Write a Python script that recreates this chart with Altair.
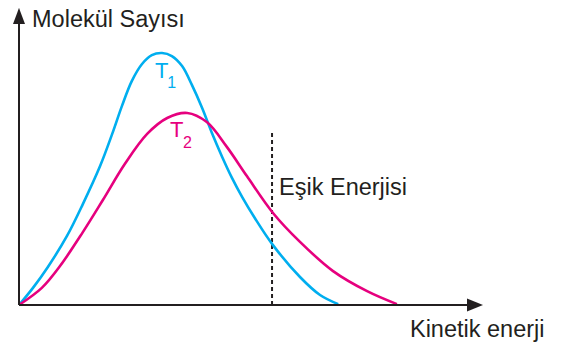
import altair as alt
import pandas as pd

# T1 curve (energy, molecule count) in arbitrary units
t1_energy = [0.00, 0.30, 0.62, 1.03, 1.37, 1.74, 2.00, 2.21, 2.42, 2.64, 2.85, 3.07, 3.28,
             3.50, 3.71, 3.93, 4.14, 4.36, 4.57, 4.79, 5.06, 5.45, 6.03, 6.46, 6.85]
t1_count = [0.00, 0.58, 1.29, 2.34, 3.42, 4.71, 5.80, 6.75, 7.59, 8.17, 8.47, 8.54, 8.44,
            8.10, 7.46, 6.68, 5.83, 5.02, 4.31, 3.66, 2.95, 2.03, 0.95, 0.34, 0.03]

# T2 curve
t2_energy = [0.00, 0.49, 0.88, 1.37, 1.80, 2.27, 2.75, 3.18, 3.61, 4.03, 4.46, 4.89,
             5.45, 6.03, 6.74, 7.47, 8.11]
t2_count = [0.00, 0.58, 1.32, 2.47, 3.56, 4.78, 5.80, 6.34, 6.51, 6.20, 5.36, 4.37,
            3.12, 2.14, 1.15, 0.47, 0.03]

threshold_energy = 5.43
threshold_top = 5.93

x_axis_end = 9.66
y_axis_end = 9.56
x_arrow_pos = 9.785
y_arrow_pos = 9.80

AXIS_COLOR = "#231f20"
CYAN = "#00aeef"
MAGENTA = "#e6007e"
FONT = "Liberation Sans"

xs = alt.Scale(domain=[0, 10], range=[11, 477])
ys = alt.Scale(domain=[0, 10], range=[297, 2])

def X(field):
    return alt.X(field, type="quantitative", scale=xs, axis=None)

def Y(field):
    return alt.Y(field, type="quantitative", scale=ys, axis=None)

df1 = pd.DataFrame({"e": t1_energy, "n": t1_count})
df2 = pd.DataFrame({"e": t2_energy, "n": t2_count})

curve1 = alt.Chart(df1).mark_line(color=CYAN, strokeWidth=2.6, interpolate="catmull-rom").encode(
    x=X("e"), y=Y("n"))
curve2 = alt.Chart(df2).mark_line(color=MAGENTA, strokeWidth=2.6, interpolate="catmull-rom").encode(
    x=X("e"), y=Y("n"))

thr = alt.Chart(pd.DataFrame({"x": [threshold_energy], "y0": [0], "y1": [threshold_top]})).mark_rule(
    color=AXIS_COLOR, strokeWidth=2, strokeDash=[4, 3]).encode(
    x=X("x"), y=Y("y0"), y2="y1")

xaxis = alt.Chart(pd.DataFrame({"x0": [0], "x1": [x_axis_end], "y": [0]})).mark_rule(
    color=AXIS_COLOR, strokeWidth=2).encode(x=X("x0"), x2="x1", y=Y("y"))
yaxis = alt.Chart(pd.DataFrame({"x": [0], "y0": [0], "y1": [y_axis_end]})).mark_rule(
    color=AXIS_COLOR, strokeWidth=2).encode(x=X("x"), y=Y("y0"), y2="y1")

xarrow = alt.Chart(pd.DataFrame({"x": [x_arrow_pos], "y": [0]})).mark_point(
    shape="M-1,-0.8 L1,0 L-1,0.8 Z", filled=True, size=256, color=AXIS_COLOR,
    opacity=1, strokeWidth=0).encode(x=X("x"), y=Y("y"))
yarrow = alt.Chart(pd.DataFrame({"x": [0], "y": [y_arrow_pos]})).mark_point(
    shape="M-0.75,1 L0,-1 L0.75,1 Z", filled=True, size=256, color=AXIS_COLOR,
    opacity=1, strokeWidth=0).encode(x=X("x"), y=Y("y"))

label_text = ["Molekül Sayısı", "Eşik Enerjisi", "Kinetik enerji"]
label_x = [0.28, 5.58, 8.39]
label_y = [9.44, 3.73, -1.08]
labels = alt.Chart(pd.DataFrame({"t": label_text, "x": label_x, "y": label_y})).mark_text(
    align="left", baseline="alphabetic", font=FONT, fontSize=23.5, color=AXIS_COLOR).encode(
    x=X("x"), y=Y("y"), text="t:N")

def tlabel(xv, yv, txt, color, size):
    return alt.Chart(pd.DataFrame({"x": [xv], "y": [yv], "t": [txt]})).mark_text(
        align="left", baseline="alphabetic", font=FONT, fontSize=size, color=color).encode(
        x=X("x"), y=Y("y"), text="t:N")

t1T = tlabel(2.92, 7.69, "T", CYAN, 22)
t1s = tlabel(3.18, 7.36, "1", CYAN, 16)
t2T = tlabel(3.24, 5.69, "T", MAGENTA, 22)
t2s = tlabel(3.52, 5.32, "2", MAGENTA, 16)

chart = alt.layer(thr, curve1, curve2, xaxis, yaxis, xarrow, yarrow, labels,
                  t1T, t1s, t2T, t2s).properties(
    width=545, height=337, padding=0, autosize=alt.AutoSizeParams(type="none"),
    background="white"
).configure_view(stroke=None)

chart.save("out.html", embed_options={"renderer": "svg", "actions": False})
